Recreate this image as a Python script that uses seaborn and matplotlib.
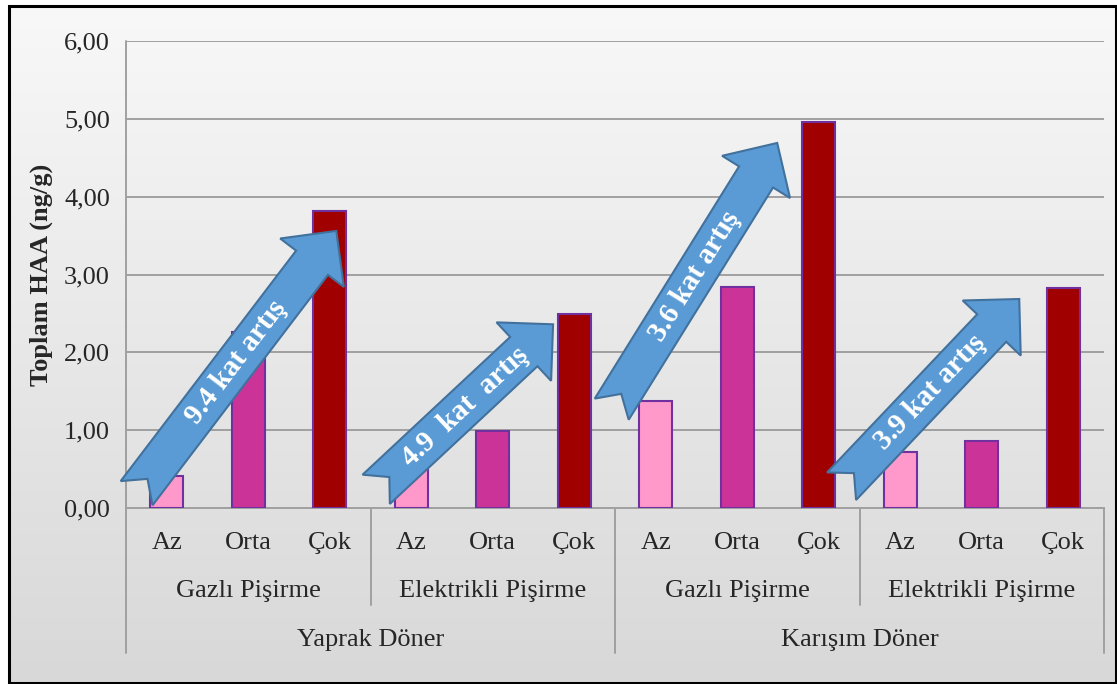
import numpy as np
import pandas as pd
import matplotlib
matplotlib.use("Agg")
import matplotlib.pyplot as plt
import matplotlib.transforms as mtransforms
from matplotlib.patches import Polygon, Rectangle
from matplotlib.lines import Line2D
from matplotlib.colors import LinearSegmentedColormap
import seaborn as sns

# ---- data -------------------------------------------------------------
doner_types = ["Yaprak Döner", "Karışım Döner"]
cooking_methods = ["Gazlı Pişirme", "Elektrikli Pişirme"]
doneness_levels = ["Az", "Orta", "Çok"]

haa_yaprak_gazli = [0.405, 2.26, 3.82]
haa_yaprak_elektrikli = [0.51, 0.99, 2.49]
haa_karisim_gazli = [1.38, 2.84, 4.96]
haa_karisim_elektrikli = [0.725, 0.865, 2.83]

y_ticks = [0, 1, 2, 3, 4, 5, 6]
y_tick_labels = ["0,00", "1,00", "2,00", "3,00", "4,00", "5,00", "6,00"]
y_label = "Toplam HAA (ng/g)"

fold_labels = ["9.4 kat artış", "4.9  kat  artış", "3.6 kat artış", "3.9 kat artış"]
# tail centre and tip of each fold-increase arrow (data coordinates)
arrow_tails = [(-0.37, 0.19), (2.57, 0.24), (5.46, 1.27), (8.28, 0.28)]
arrow_tips = [(2.08, 3.56), (4.74, 2.36), (7.49, 4.69), (10.46, 2.685)]

# ---- table for seaborn -----------------------------------------------
rows = []
series = [[haa_yaprak_gazli, haa_yaprak_elektrikli],
          [haa_karisim_gazli, haa_karisim_elektrikli]]
for d, per_method in zip(doner_types, series):
    for m, vals in zip(cooking_methods, per_method):
        for lvl, v in zip(doneness_levels, vals):
            rows.append({"key": f"{d}|{m}|{lvl}", "doner": d, "method": m,
                         "level": lvl, "haa": v})
df = pd.DataFrame(rows)

# ---- style -------------------------------------------------------------
sns.set_style("white")
plt.rcParams["font.family"] = ["Liberation Serif", "DejaVu Serif"]

W, H = 1117, 684
fig = plt.figure(figsize=(W / 100, H / 100), dpi=100)
fig.patch.set_facecolor("white")

# framed gradient background
bg = fig.add_axes([0, 0, 1, 1], zorder=0)
bg.set_xlim(0, 1)
bg.set_ylim(0, 1)
bg.axis("off")
cmap = LinearSegmentedColormap.from_list("bg", ["#f8f8f8", "#d8d8d8"])
bx0, bx1 = 8.5 / W, 1115.5 / W
by0, by1 = 1 - 682.5 / H, 1 - 5.5 / H
bg.imshow(np.linspace(0, 1, 256).reshape(-1, 1), cmap=cmap, aspect="auto",
          origin="upper", extent=[bx0, bx1, by0, by1], interpolation="bilinear")
bg.add_patch(Rectangle((bx0, by0), bx1 - bx0, by1 - by0, fill=False,
                       edgecolor="black", linewidth=2.2))

ax = fig.add_axes([126 / W, (H - 508) / H, (1104 - 126) / W, 467 / H], zorder=1)
ax.set_facecolor("none")

level_colors = {"Az": "#ff99cc", "Orta": "#cc3399", "Çok": "#a00000"}
sns.barplot(data=df, x="key", y="haa", hue="level", hue_order=doneness_levels,
            order=list(df["key"]), palette=level_colors, saturation=1,
            dodge=False, width=0.4, edgecolor="#7030a0", linewidth=1.5,
            legend=False, errorbar=None, ax=ax, zorder=3)

grid_c = "#a0a0a0"
ax.set_xlim(-0.5, 11.5)
ax.set_ylim(0, 6)
ax.set_yticks(y_ticks)
ax.set_yticklabels(y_tick_labels, fontsize=19)
ax.tick_params(axis="y", length=0, pad=11.5)
ax.set_xticks([])
ax.set_xlabel("")
ax.set_ylabel(y_label, fontsize=19, fontweight="bold")
ax.yaxis.set_label_coords(-0.075, 0.5)
ax.yaxis.grid(True, color=grid_c, linewidth=1.4)
ax.set_axisbelow(True)
for s in ["top", "right", "left"]:
    ax.spines[s].set_visible(False)
ax.spines["bottom"].set_color(grid_c)
ax.spines["bottom"].set_linewidth(1.4)

# ---- hierarchical category axis ----------------------------------------
trans = mtransforms.blended_transform_factory(ax.transData, ax.transAxes)
base_lvl, base_meth, base_don = -41 / 467, -89 / 467, -138 / 467
mid_sep, low_sep = -97 / 467, -145 / 467

for i, lvl in enumerate(df["level"]):
    ax.text(i, base_lvl, lvl, transform=trans, ha="center", va="baseline",
            fontsize=19)
for j, m in enumerate(cooking_methods * 2):
    ax.text(3 * j + 1, base_meth, m, transform=trans, ha="center",
            va="baseline", fontsize=19)
for k, d in enumerate(doner_types):
    ax.text(6 * k + 2.5, base_don, d, transform=trans, ha="center",
            va="baseline", fontsize=19)

sep_lines = [(-0.5, 1.0, low_sep), (2.5, 0.0, mid_sep), (5.5, 0.0, low_sep),
             (8.5, 0.0, mid_sep), (11.5, 0.0, low_sep)]
for x, y_top, y_bot in sep_lines:
    ax.add_line(Line2D([x, x], [y_top, y_bot], transform=trans, color=grid_c,
                       linewidth=1.4, clip_on=False, zorder=2))

# ---- fold-increase arrows ------------------------------------------------
shaft_hw, head_hw, head_len, notch = 20, 40, 40, 18
to_data = ax.transData.inverted()
for label, tail, tip in zip(fold_labels, arrow_tails, arrow_tips):
    T = ax.transData.transform(tail)
    P = ax.transData.transform(tip)
    v = P - T
    L = np.hypot(*v)
    u = v / L
    n = np.array([-u[1], u[0]])
    B = T + (L - head_len) * u
    pts = np.array([
        T + shaft_hw * n,
        B + shaft_hw * n,
        B + head_hw * n,
        P,
        B - head_hw * n,
        B - shaft_hw * n,
        T - shaft_hw * n,
        T + notch * u,
    ])
    ax.add_patch(Polygon(to_data.transform(pts), closed=True,
                         facecolor="#5b9bd5", edgecolor="#41719c",
                         linewidth=1.5, zorder=5, clip_on=False))
    angle = np.degrees(np.arctan2(v[1], v[0]))
    mid = to_data.transform((T + P) / 2)
    ax.text(mid[0], mid[1], label, rotation=angle, rotation_mode="anchor",
            ha="center", va="center", color="white", fontweight="bold",
            fontsize=21, zorder=6)

fig.savefig("out.png", dpi=100)
